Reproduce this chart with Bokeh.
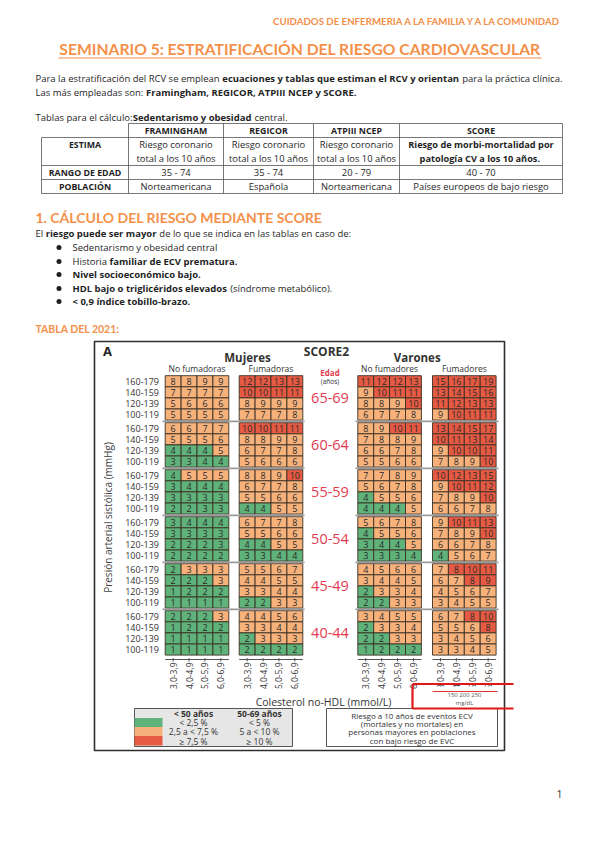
import math
from bokeh.plotting import figure
from bokeh.models import Range1d, ColumnDataSource
from bokeh.core.properties import value
from bokeh.embed import file_html
from bokeh.resources import INLINE

# ------------------------------------------------------------------ data
ages = ["65-69", "60-64", "55-59", "50-54", "45-49", "40-44"]
age_is_50_69 = [True, True, True, True, False, False]
sbp_labels = ["160-179", "140-159", "120-139", "100-119"]
chol_labels = ["3,0-3,9", "4,0-4,9", "5,0-5,9", "6,0-6,9"]
panel_titles = ["No fumadoras", "Fumadoras", "No fumadores", "Fumadores"]
sex_titles = ["Mujeres", "Varones"]

women_nonsmoker = [
    [8, 8, 9, 9], [7, 7, 7, 7], [5, 6, 6, 6], [5, 5, 5, 5],
    [6, 6, 7, 7], [5, 5, 5, 6], [4, 4, 4, 5], [3, 3, 4, 4],
    [4, 5, 5, 5], [3, 4, 4, 4], [3, 3, 3, 3], [2, 2, 3, 3],
    [3, 4, 4, 4], [3, 3, 3, 3], [2, 2, 2, 3], [2, 2, 2, 2],
    [2, 3, 3, 3], [2, 2, 2, 3], [1, 2, 2, 2], [1, 1, 1, 1],
    [2, 2, 2, 3], [1, 2, 2, 2], [1, 1, 1, 1], [1, 1, 1, 1]]
women_smoker = [
    [12, 12, 13, 13], [10, 10, 11, 11], [8, 9, 9, 9], [7, 7, 7, 8],
    [10, 10, 11, 11], [8, 8, 9, 9], [6, 7, 7, 8], [5, 6, 6, 6],
    [8, 8, 9, 10], [6, 7, 7, 8], [5, 5, 6, 6], [4, 4, 5, 5],
    [6, 7, 7, 8], [5, 5, 6, 6], [4, 4, 5, 5], [3, 3, 4, 4],
    [5, 5, 6, 7], [4, 4, 5, 5], [3, 3, 4, 4], [2, 2, 3, 3],
    [4, 4, 5, 6], [3, 3, 4, 4], [2, 3, 3, 3], [2, 2, 2, 2]]
men_nonsmoker = [
    [11, 12, 12, 13], [9, 10, 11, 11], [8, 8, 9, 10], [6, 7, 7, 8],
    [8, 9, 10, 11], [7, 8, 8, 9], [6, 6, 7, 8], [5, 5, 6, 6],
    [7, 7, 8, 9], [5, 6, 7, 8], [4, 5, 5, 6], [4, 4, 4, 5],
    [5, 6, 7, 8], [4, 5, 5, 6], [3, 4, 4, 5], [3, 3, 3, 4],
    [4, 5, 6, 6], [3, 4, 4, 5], [2, 3, 3, 4], [2, 2, 3, 3],
    [3, 4, 5, 5], [2, 3, 3, 4], [2, 2, 3, 3], [1, 2, 2, 2]]
men_smoker = [
    [15, 16, 17, 19], [13, 14, 15, 16], [11, 12, 13, 13], [9, 10, 11, 11],
    [13, 14, 15, 17], [10, 11, 13, 14], [9, 10, 10, 11], [7, 8, 9, 10],
    [10, 12, 13, 15], [9, 10, 11, 12], [7, 8, 9, 10], [6, 6, 7, 8],
    [9, 10, 11, 13], [7, 8, 9, 10], [6, 6, 7, 8], [4, 5, 6, 7],
    [7, 8, 10, 11], [6, 7, 8, 9], [4, 5, 6, 7], [3, 4, 5, 5],
    [6, 7, 8, 10], [5, 5, 6, 8], [3, 4, 5, 6], [3, 3, 4, 5]]
panels = [women_nonsmoker, women_smoker, men_nonsmoker, men_smoker]

thresholds_under50 = [2.5, 7.5]
thresholds_50_69 = [5, 10]
legend_under50 = ["< 2,5 %", "2,5 a < 7,5 %", "\u2265 7,5 %"]
legend_50_69 = ["< 5 %", "5 a < 10 %", "\u2265 10 %"]

table_cols = ["FRAMINGHAM", "REGICOR", "ATPIII NCEP", "SCORE"]
table_rows = ["ESTIMA", "RANGO DE EDAD", "POBLACI\u00d3N"]
table_estima_1 = ["Riesgo coronario", "Riesgo coronario", "Riesgo coronario", "Riesgo de morbi-mortalidad por"]
table_estima_2 = ["total a los 10 a\u00f1os", "total a los 10 a\u00f1os", "total a los 10 a\u00f1os", "patolog\u00eda CV  a los 10 a\u00f1os."]
table_rango = ["35 - 74", "35 - 74", "20 - 79", "40 - 70"]
table_poblacion = ["Norteamericana", "Espa\u00f1ola", "Norteamericana", "Pa\u00edses europeos de bajo riesgo"]

# paragraph runs: (text, bold)
para_lines = [
    [("Para la estratificaci\u00f3n del RCV se emplean ", False),
     ("ecuaciones y tablas que estiman el RCV y orientan", True),
     (" para la pr\u00e1ctica cl\u00ednica.", False)],
    [("Las m\u00e1s empleadas son: ", False),
     ("Framingham, REGICOR, ATPIII NCEP y SCORE.", True)],
    [("Tablas para el c\u00e1lculo:", False), ("Sedentarismo y obesidad", True),
     (" central.", False)],
    [("El ", False), ("riesgo puede ser mayor", True),
     (" de lo que se indica en las tablas en caso de:", False)],
]
bullet_lines = [
    [("Sedentarismo y obesidad central", False)],
    [("Historia ", False), ("familiar de ECV prematura.", True)],
    [("Nivel socioecon\u00f3mico bajo.", True)],
    [("HDL bajo o triglic\u00e9ridos elevados", True), (" (s\u00edndrome metab\u00f3lico).", False)],
    [("< 0,9 \u00edndice tobillo-brazo.", True)],
]

# ------------------------------------------------------------------ styles
ORANGE = "#f4904a"
HEAD_FONT = "Lato"
DOC_FONT = "Open Sans"
CH_FONT = "Open Sans"
GREEN, AMBER, RED = "#5fb37a", "#f7b27c", "#e65a43"
AGE_RED = "#e23a4f"

# approximate Open Sans advance widths (em) used to chain mixed-weight runs
_REG = dict(zip("abcdefghijklmnopqrstuvwxyz",
                [.556, .613, .476, .613, .561, .339, .548, .614, .253, .253, .525, .253, .930,
                 .614, .604, .613, .613, .408, .477, .353, .614, .501, .778, .524, .502, .466]))
_REG.update(zip("ABCDEFGHIJKLMNOPQRSTUVWXYZ",
                [.633, .648, .631, .729, .556, .516, .728, .738, .279, .267, .615, .519, .907,
                 .763, .781, .604, .781, .618, .549, .553, .728, .595, .926, .577, .560, .571]))
_BLD = dict(zip("abcdefghijklmnopqrstuvwxyz",
                [.586, .638, .514, .638, .593, .406, .563, .661, .308, .308, .640, .308, .992,
                 .661, .619, .638, .638, .454, .500, .436, .661, .579, .882, .602, .579, .500]))
_BLD.update(zip("ABCDEFGHIJKLMNOPQRSTUVWXYZ",
                [.690, .704, .636, .757, .575, .559, .727, .797, .378, .333, .676, .571, .987,
                 .812, .799, .667, .799, .685, .561, .580, .785, .652, .989, .655, .617, .575]))
_PUNCT = {" ": .26, ".": .27, ",": .27, ":": .27, "-": .32, "(": .30, ")": .30, "<": .57}
_ACC = str.maketrans("\u00e1\u00e9\u00ed\u00f3\u00fa\u00f1\u00d3\u00c1", "aeiounOA")


def em_width(s, bold):
    tab = _BLD if bold else _REG
    w = 0.0
    for ch in s.translate(_ACC):
        if ch.isdigit():
            w += .572
        else:
            w += tab.get(ch, _PUNCT.get(ch, .55))
    return w


BODY = 527.0 / sum(em_width(t, b) for t, b in para_lines[0])

p = figure(width=584, height=832, x_range=Range1d(0, 584), y_range=Range1d(832, 0),
           output_backend="svg", toolbar_location=None, min_border=0,
           x_axis_type=None, y_axis_type=None)
p.outline_line_color = None
p.grid.grid_line_color = None
p.background_fill_color = "white"
p.border_fill_color = "white"


def txt(x, y, s, size, bold=False, color="#1f1f1f", align="left", font=DOC_FONT,
        angle=0.0, baseline="middle"):
    if not isinstance(x, list):
        x, y, s = [x], [y], [s]
    p.text(x=x, y=y, text=s, text_font=value(font), text_font_size=value(f"{size:.2f}px"),
           text_font_style="bold" if bold else "normal", text_color=color,
           text_align=align, text_baseline=baseline, angle=angle)


def chained(x, y, runs, size):
    for t, b in runs:
        lead = len(t) - len(t.lstrip(" "))
        x += em_width(" " * lead, b) * size
        core = t.strip(" ")
        txt(x, y, core, size, b)
        x += em_width(core, b) * size
        x += em_width(" " * (len(t) - lead - len(core)), b) * size


# ------------------------------------------------------------------ document
txt(562, 20, "CUIDADOS DE ENFERMERIA A LA FAMILIA Y A LA COMUNIDAD", 9.7, True, ORANGE, "right", HEAD_FONT)
txt(299.5, 48, "SEMINARIO 5: ESTRATIFICACI\u00d3N DEL RIESGO CARDIOVASCULAR", 15.7, True, ORANGE,
    "center", HEAD_FONT)
p.segment(x0=[58], y0=[57.5], x1=[541], y1=[57.5], line_color=ORANGE, line_width=1.2)

for y, runs in zip([78, 92, 117, 233], para_lines):
    chained(35, y, runs, BODY)
bullet_y = [247, 261, 274, 288, 301]
for y, runs in zip(bullet_y, bullet_lines):
    chained(72, y, runs, BODY)
p.scatter(x=[58.5] * 5, y=bullet_y, size=5, marker="circle", fill_color="#1f1f1f", line_color=None)

txt(35, 217, "1.  C\u00c1LCULO DEL RIESGO MEDIANTE SCORE", 14, True, ORANGE, font=HEAD_FONT)
txt(35, 328, "TABLA DEL 2021:", 10.5, True, ORANGE, font=HEAD_FONT)
txt(562, 793, "1", 10.5, False, "#333", "right")

# ------------------------------------------------------------------ table
col_edges = [41, 128, 223, 313, 399, 562]
row_edges = [123, 137, 165, 179, 193]
TL = "#555555"
p.segment(x0=[col_edges[1]] + [col_edges[0]] * 4, y0=row_edges,
          x1=[col_edges[-1]] * 5, y1=row_edges, line_color=TL, line_width=0.8)
p.segment(x0=col_edges, y0=[row_edges[1]] + [row_edges[0]] * 5,
          x1=col_edges, y1=[row_edges[-1]] * 6, line_color=TL, line_width=0.8)
cx = [(col_edges[i] + col_edges[i + 1]) / 2 for i in range(5)]
TH, TS = 8.8, 9.4
txt(cx[1:], [130] * 4, table_cols, TH, True, align="center")
txt(cx[0], 144, table_rows[0], TH, True, align="center")
txt(cx[0], 172, table_rows[1], TH, True, align="center")
txt(cx[0], 186, table_rows[2], TH, True, align="center")
txt(cx[1:4], [144] * 3, table_estima_1[:3], TS, False, align="center")
txt(cx[1:4], [158] * 3, table_estima_2[:3], TS, False, align="center")
txt(cx[4], 144, table_estima_1[3], 9.2, True, align="center")
txt(cx[4], 158, table_estima_2[3], 9.2, True, align="center")
txt(cx[1:], [172] * 4, table_rango, TS, False, align="center")
txt(cx[1:], [186] * 4, table_poblacion, TS, False, align="center")

# ------------------------------------------------------------------ SCORE2 chart
p.rect(x=[299], y=[545.5], width=[410], height=[409], fill_color="white",
       line_color="#2e2e2e", line_width=1.6)

panel_x0 = [164.7, 238.7, 357.3, 432.0]
CW, RH = 15.9, 11.1
TOP0, BLOCK = 375.2, 47.0

xs, ys, vals, cols = [], [], [], []
for pi, panel in enumerate(panels):
    for r, rowvals in enumerate(panel):
        b, rr = divmod(r, 4)
        th = thresholds_50_69 if age_is_50_69[b] else thresholds_under50
        for c, v in enumerate(rowvals):
            xs.append(panel_x0[pi] + CW * (c + 0.5))
            ys.append(TOP0 + BLOCK * b + RH * (rr + 0.5))
            vals.append(str(v))
            cols.append(GREEN if v < th[0] else (AMBER if v < th[1] else RED))
src = ColumnDataSource(dict(x=xs, y=ys, v=vals, c=cols))
p.rect(x="x", y="y", width=CW, height=RH, fill_color="c", line_color="#3a3024",
       line_width=0.9, source=src)
p.text(x="x", y="y", text="v", source=src, text_font=value(CH_FONT),
       text_font_size=value("9px"), text_color="#2a2a2a", text_align="center",
       text_baseline="middle")

# block separators
sep_y = [TOP0 + BLOCK * b - 1.3 for b in range(1, 6)]
p.segment(x0=[162] * 5, y0=sep_y, x1=[304] * 5, y1=sep_y, line_color="#9a9a9a", line_width=1.8)
p.segment(x0=[355] * 5, y0=sep_y, x1=[498] * 5, y1=sep_y, line_color="#9a9a9a", line_width=1.8)

# row labels & age labels
lab_x, lab_y, lab_t = [], [], []
for b in range(6):
    for rr in range(4):
        lab_x.append(158.5)
        lab_y.append(TOP0 + BLOCK * b + RH * (rr + 0.5))
        lab_t.append(sbp_labels[rr])
txt(lab_x, lab_y, lab_t, 9, False, "#333", "right", CH_FONT)
txt([329.5] * 6, [TOP0 + BLOCK * b + 2 * RH for b in range(6)], ages, 14.5, False,
    AGE_RED, "center", CH_FONT)
txt(329.5, 371.5, "Edad", 8, True, AGE_RED, "center", CH_FONT)
txt(329.5, 380.5, "(a\u00f1os)", 6.5, False, "#333", "center", CH_FONT)

# titles
txt(107, 350, "A", 13, True, "#222", "center", CH_FONT)
txt(326, 350.5, "SCORE2", 12, True, "#333", "center", CH_FONT)
txt([247, 416.7], [357.3, 357.3], sex_titles, 11.5, True, "#333", "center", CH_FONT)
txt([px + 2 * CW for px in panel_x0], [367.7] * 4, panel_titles, 8.5, False, "#333",
    "center", CH_FONT)
txt(107, 517, "Presi\u00f3n arterial sist\u00f3lica (mmHg)", 10, False, "#444", "center",
    CH_FONT, angle=math.pi / 2)

# x axis ticks and labels
tick_y = 659
seg_x0 = [px for px in panel_x0]
seg_x1 = [px + 4 * CW for px in panel_x0]
p.segment(x0=seg_x0, y0=[tick_y] * 4, x1=seg_x1, y1=[tick_y] * 4, line_color="#555", line_width=1)
tx = [px + CW * (c + 0.5) for px in panel_x0 for c in range(4)]
p.segment(x0=tx, y0=[tick_y - 1.5] * 16, x1=tx, y1=[tick_y + 2] * 16, line_color="#555", line_width=1)
txt(tx, [662] * 16, chol_labels * 4, 8.5, False, "#333", "right", CH_FONT, angle=math.pi / 2)
p.quad(left=[430], right=[500], top=[686], bottom=[707], fill_color="white", line_color=None)
txt(323, 701, "Colesterol no-HDL (mmol/L)", 10.5, False, "#333", "center", CH_FONT)
txt(464, 694.5, "150 200 250", 6, False, "#555", "center", CH_FONT)
txt(464, 702, "mg/dL", 6, False, "#555", "center", CH_FONT)
p.segment(x0=[432], y0=[691], x1=[497], y1=[691], line_color="#e03030", line_width=1)

# legend
p.quad(left=[134], right=[292], top=[708], bottom=[746], fill_color="#e6e6e6",
       line_color="#555", line_width=1)
p.quad(left=[134] * 3, right=[162] * 3, top=[717.5, 726.5, 735.5], bottom=[726.5, 735.5, 745],
       fill_color=[GREEN, AMBER, RED], line_color=None)
txt([193, 259], [713, 713], ["< 50 a\u00f1os", "50-69 a\u00f1os"], 8.5, True, "#333", "center", CH_FONT)
txt([193] * 3, [722, 731, 740.5], legend_under50, 8.5, False, "#333", "center", CH_FONT)
txt([259] * 3, [722, 731, 740.5], legend_50_69, 8.5, False, "#333", "center", CH_FONT)

p.quad(left=[326], right=[497], top=[708], bottom=[746], fill_color="white",
       line_color="#555", line_width=1)
txt([411.5] * 4, [715, 723, 731, 739.5],
    ["Riesgo a 10 a\u00f1os de eventos ECV", "(mortales y no mortales) en",
     "personas mayores en poblaciones", "con bajo riesgo de EVC"], 8, False, "#333",
    "center", CH_FONT)

# red annotation box
p.segment(x0=[412, 412, 412], y0=[683.5, 708, 683.5], x1=[513, 513, 412], y1=[683.5, 708, 708],
          line_color="#e01818", line_width=2.2)

open("out.html", "w").write(file_html(p, INLINE))
